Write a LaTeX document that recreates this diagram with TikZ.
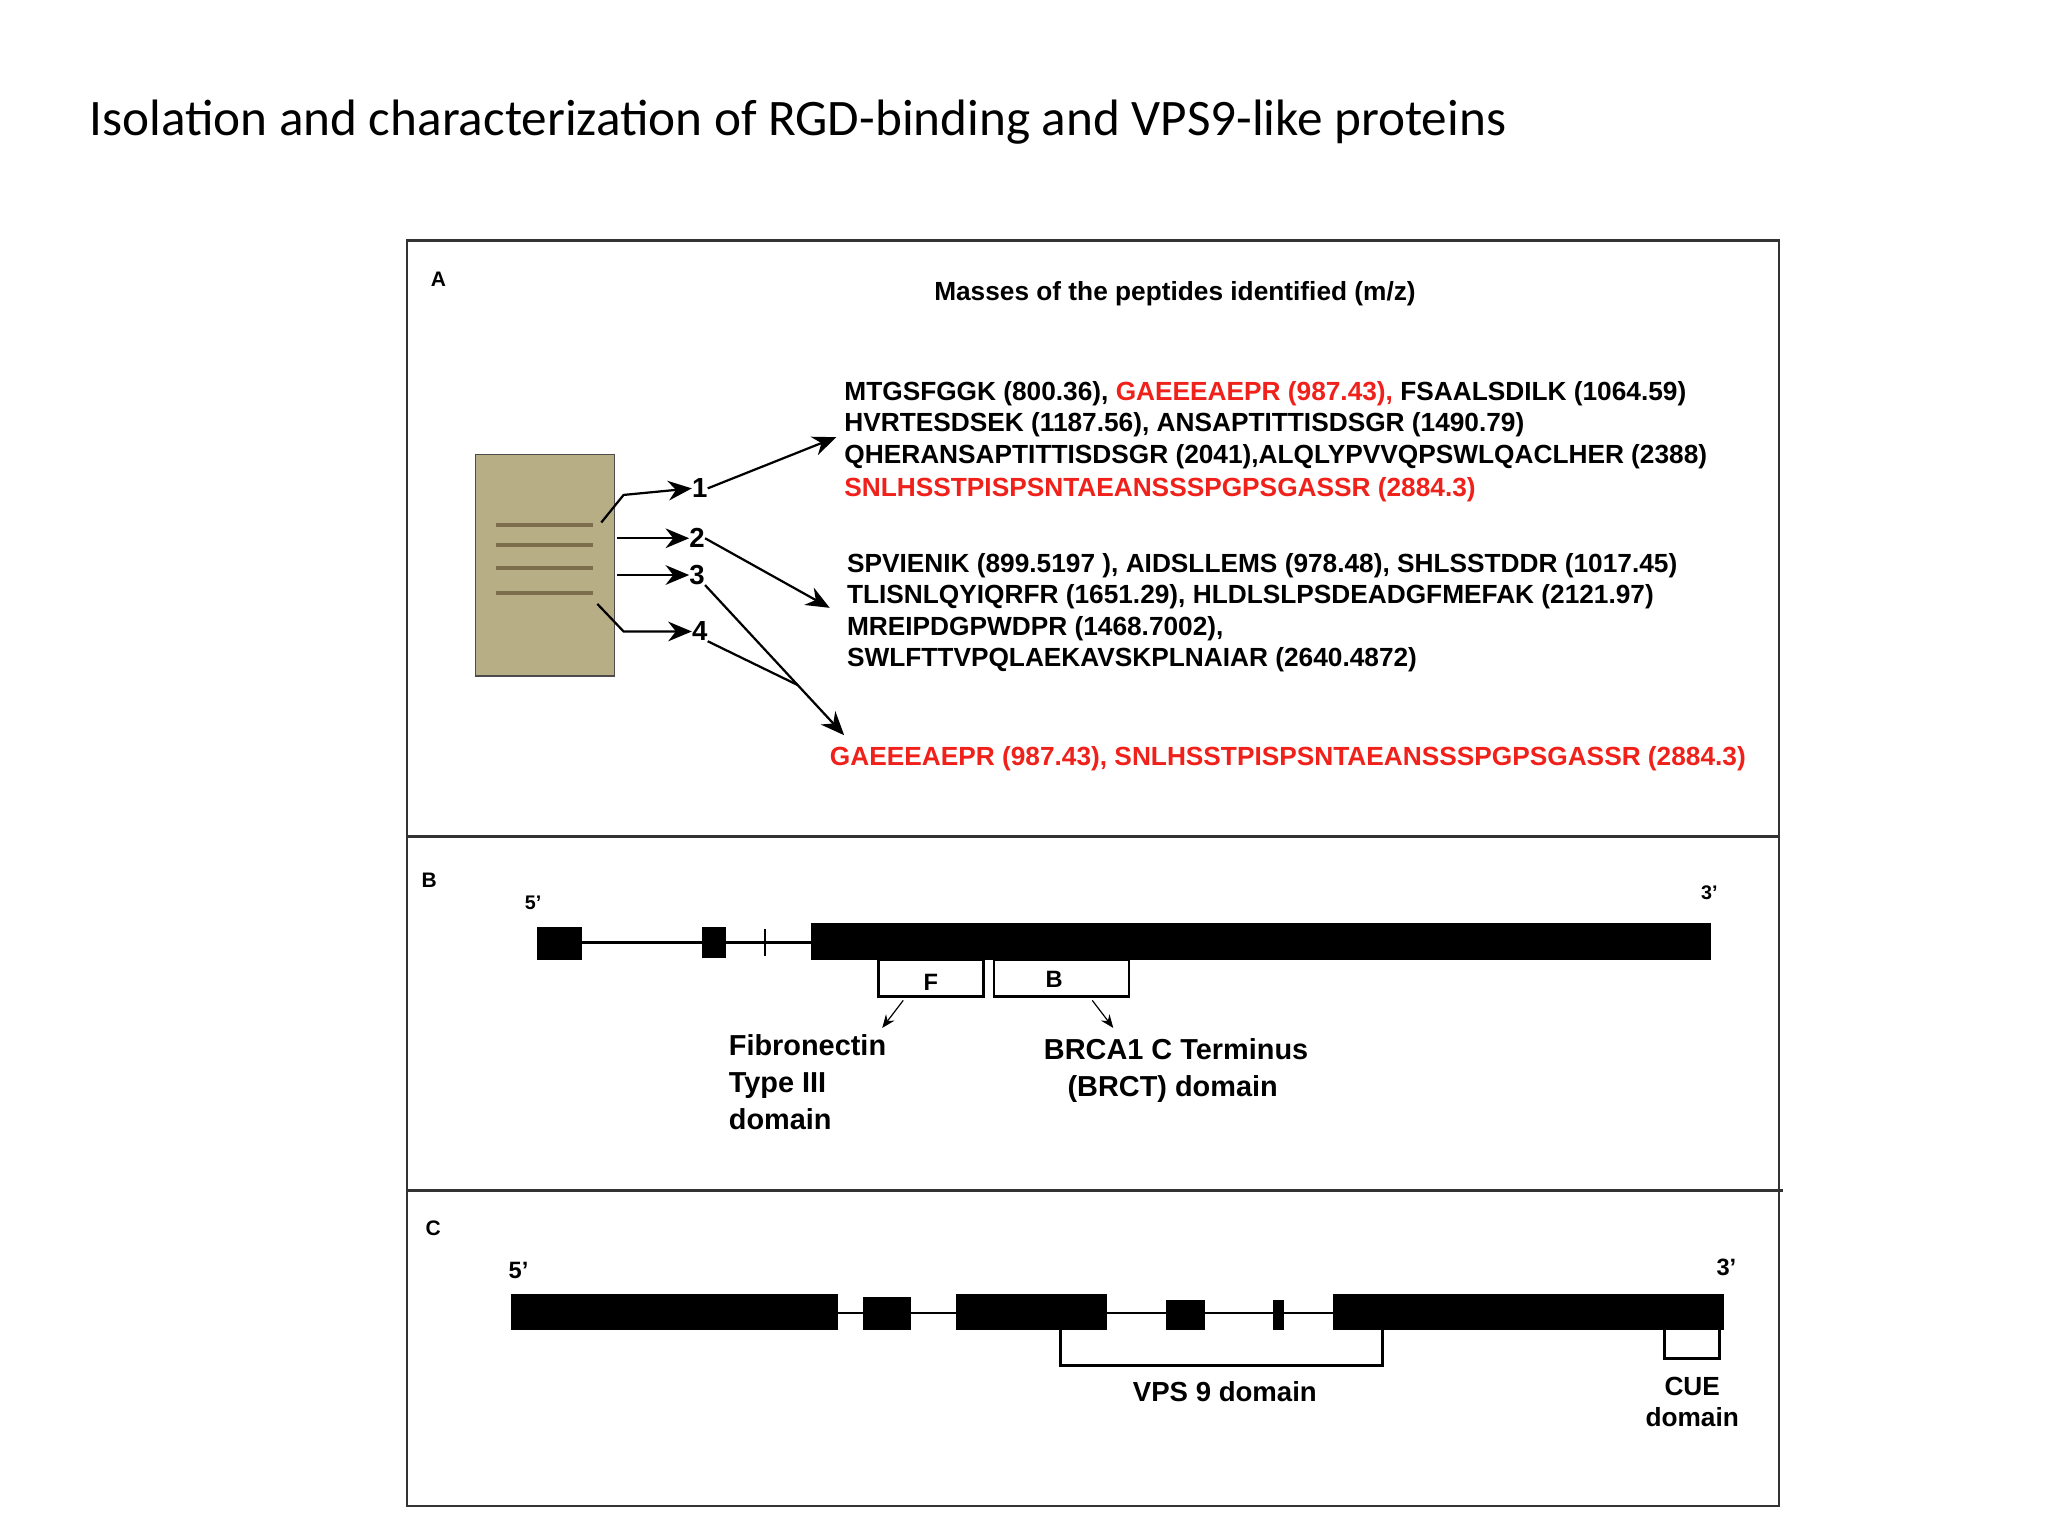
\documentclass[tikz,border=0pt]{standalone}
\usepackage{fontspec}
\setmainfont{Liberation Sans}
\newfontfamily\titlefont{Carlito}
\usetikzlibrary{arrows.meta}
\definecolor{gel}{HTML}{B8AE85}
\definecolor{band}{HTML}{6E5E40}
\definecolor{pepred}{HTML}{F0201A}
\begin{document}
\begin{tikzpicture}[x=1pt,y=-1pt,
  pep/.style={anchor=base west,inner sep=0,font=\fontsize{20}{22}\selectfont\bfseries},
  lab/.style={inner sep=0,font=\fontsize{16}{18}\selectfont\bfseries},
  num/.style={inner sep=0,font=\fontsize{21}{22}\selectfont\bfseries},
  arr/.style={-{Stealth[length=18pt,width=15pt]},line width=1.7pt},
  sarr/.style={-{Stealth[length=10pt,width=8pt]},line width=0.9pt},
  frame/.style={line width=2pt,draw=black!80},
  blk/.style={fill=black}]
\useasboundingbox (0,0) rectangle (1560,1170);
\fill[white] (0,0) rectangle (1560,1170);
\node[anchor=base west,inner sep=0,font=\titlefont\fontsize{39}{44}\selectfont] (title) at (68,103) {Isolation and characterization of RGD-binding and VPS9-like proteins};
% frames
\draw[frame] (310,183) rectangle (1355,1147);
\draw[frame] (310,637) -- (1355,637);
\draw[frame] (310,907) -- (1358,907);
% ---------- A
\node[lab,anchor=base west] (la) at (328,218) {A};
\node[lab,anchor=base,font=\fontsize{20}{22}\selectfont\bfseries] (head) at (895,229) {Masses of the peptides identified (m/z)};
\node[draw=black!70,fill=gel,minimum width=106pt,minimum height=169pt,inner sep=0,line width=1pt] (gel) at (415,430.5) {};
\foreach \y in {400,415,433,452}{\draw[band,line width=3pt,opacity=0.8] (378,\y) -- (452,\y);}
\node[num] (n1) at (533,372) {1};
\node[num] (n2) at (531,410) {2};
\node[num] (n3) at (531,438) {3};
\node[num] (n4) at (533,481) {4};
\coordinate (g1) at (458,398);
\coordinate (g4) at (455,460);
\draw[arr] (g1) -- (475,377) -- (n1.west);
\draw[arr] (470,410) -- (n2.west);
\draw[arr] (470,438) -- (n3.west);
\draw[arr] (g4) -- (475,481) -- (n4.west);
\coordinate (t1) at (637,333);
\coordinate (t2) at (632,463);
\coordinate (t3) at (643,560);
\coordinate (m4) at (608,522);
\draw[arr] (n1.east) -- (t1);
\draw[arr] (n2.east) -- (t2);
\draw[arr] (n3.south east) -- (t3);
\draw[line width=1.7pt] (n4.south east) -- (m4);
\node[pep] (p1) at (643,305) {MTGSFGGK (800.36), \textcolor{pepred}{GAEEEAEPR (987.43),} FSAALSDILK (1064.59)};
\node[pep] (p2) at (643,329) {HVRTESDSEK (1187.56), ANSAPTITTISDSGR (1490.79)};
\node[pep] (p3) at (643,353) {QHERANSAPTITTISDSGR (2041),ALQLYPVVQPSWLQACLHER (2388)};
\node[pep,text=pepred] (p4) at (643,378) {SNLHSSTPISPSNTAEANSSSPGPSGASSR (2884.3)};
\node[pep] (q1) at (645,436) {SPVIENIK (899.5197 ), AIDSLLEMS (978.48), SHLSSTDDR (1017.45)};
\node[pep] (q2) at (645,460) {TLISNLQYIQRFR (1651.29), HLDLSLPSDEADGFMEFAK (2121.97)};
\node[pep] (q3) at (645,484) {MREIPDGPWDPR (1468.7002),};
\node[pep] (q4) at (645,508) {SWLFTTVPQLAEKAVSKPLNAIAR (2640.4872)};
\node[pep,text=pepred] (r1) at (632,583) {GAEEEAEPR (987.43), SNLHSSTPISPSNTAEANSSSPGPSGASSR (2884.3)};
% ---------- B
\node[lab,anchor=base west] (lb) at (321,676) {B};
\node[lab,font=\fontsize{15}{15}\selectfont\bfseries] (b5) at (406,688) {5'};
\node[lab,font=\fontsize{15}{15}\selectfont\bfseries] (b3) at (1302,680) {3'};
\draw[line width=2pt] (410,718) -- (620,718);
\fill[blk] (409,706) rectangle (443,731);
\fill[blk] (535,706) rectangle (553,730);
\draw[line width=1.5pt] (583,708) -- (583,728);
\fill[blk] (618,703) rectangle (1303,731);
\draw[line width=2pt] (669,731) rectangle (749,759);
\draw[line width=2pt] (757,731) rectangle (860,759);
\node[lab,font=\fontsize{18}{20}\selectfont\bfseries] (bf) at (709,748) {F};
\node[lab,font=\fontsize{18}{20}\selectfont\bfseries] (bb) at (803,746) {B};
\node[lab,anchor=north west,align=left,font=\fontsize{22}{28}\selectfont\bfseries] (fib) at (555,788) {Fibronectin\\Type III\\domain};
\node[lab,anchor=base west,font=\fontsize{22}{28}\selectfont\bfseries] (brca) at (795,807) {BRCA1 C Terminus};
\node[lab,anchor=base west,font=\fontsize{22}{28}\selectfont\bfseries] (brct) at (813,835) {(BRCT) domain};
\draw[sarr] (688,762) -- (672,783);
\draw[sarr] (832,762) -- (848,783);
% ---------- C
\node[lab,anchor=base west] (lc) at (324,941) {C};
\node[lab,font=\fontsize{18}{18}\selectfont\bfseries] (c5) at (395,968) {5'};
\node[lab,font=\fontsize{18}{18}\selectfont\bfseries] (c3) at (1315,965) {3'};
\draw[line width=2pt] (390,1000) -- (1313,1000);
\fill[blk] (389,986) rectangle (638,1013);
\fill[blk] (657,988) rectangle (694,1013);
\fill[blk] (728,986) rectangle (843,1013);
\fill[blk] (888,990) rectangle (918,1013);
\fill[blk] (970,990) rectangle (978,1013);
\fill[blk] (1015,986) rectangle (1313,1013);
\draw[line width=2.5pt] (808,1013) -- (808,1040) -- (1053,1040) -- (1053,1013);
\draw[line width=2.5pt] (1268,1013) -- (1268,1035) -- (1310,1035) -- (1310,1013);
\node[lab,font=\fontsize{21}{24}\selectfont\bfseries] (vps) at (933,1060) {VPS 9 domain};
\node[lab,align=center,font=\fontsize{20}{24}\selectfont\bfseries] (cue) at (1289,1068) {CUE\\domain};
\end{tikzpicture}
\end{document}
